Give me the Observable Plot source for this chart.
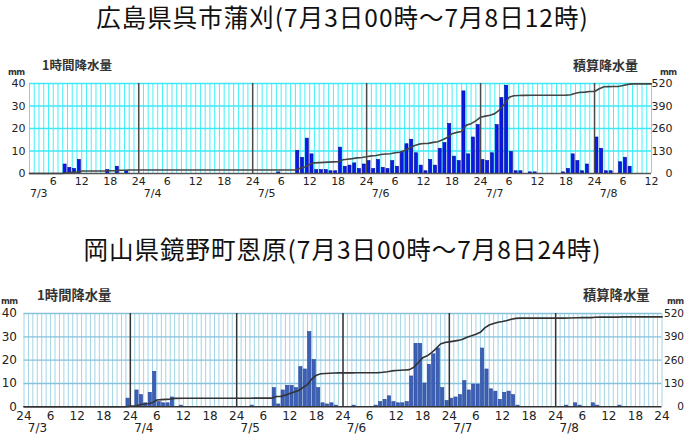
<!DOCTYPE html>
<html><head><meta charset="utf-8">
<script src="https://cdn.jsdelivr.net/npm/d3@7"></script>
<script src="https://cdn.jsdelivr.net/npm/@observablehq/plot@0.6"></script>
<style>
html,body{margin:0;padding:0;background:#fff;overflow:hidden;}
#page{position:relative;width:685px;height:438px;overflow:hidden;background:#fff;}
.abs{position:absolute;white-space:nowrap;line-height:1;color:#111;}
.title{font-family:"Noto Sans CJK JP";font-size:24.5px;left:0;width:685px;text-align:center;letter-spacing:1px;}
.lbl{font-family:"Noto Sans CJK JP";font-weight:bold;color:#333;}
.mm{font-family:"DejaVu Sans";font-weight:bold;font-size:8.5px;color:#333;letter-spacing:-0.5px;}
.wrap{position:absolute;left:0;}
</style></head><body>
<div id="page">
  <div class="abs title" style="top:5px">広島県呉市蒲刈(7月3日00時～7月8日12時)</div>
  <div class="abs lbl" style="left:42px;top:59px;font-size:12.5px">1時間降水量</div>
  <div class="abs mm" style="left:8px;top:68px">mm</div>
  <div class="abs lbl" style="left:573px;top:58px;font-size:13px">積算降水量</div>
  <div class="abs mm" style="left:660px;top:68px">mm</div>
  <div id="top" class="wrap" style="top:45px"></div>

  <div class="abs title" style="top:237px">岡山県鏡野町恩原(7月3日00時～7月8日24時)</div>
  <div class="abs lbl" style="left:37px;top:288px;font-size:13.3px">1時間降水量</div>
  <div class="abs mm" style="left:1px;top:297px">mm</div>
  <div class="abs lbl" style="left:583px;top:288px;font-size:13.3px">積算降水量</div>
  <div class="abs mm" style="left:667px;top:297px">mm</div>
  <div id="bot" class="wrap" style="top:275px"></div>
</div>
<script>
// ---------- data: 呉市蒲刈 (hour counted from 7/3 00:00) ----------
const topBarHours = [9,10,11,12,18,20,22,54,58,59,60,61,62,63,64,65,66,67,68,69,70,71,72,73,74,75,76,77,78,79,80,81,82,83,84,85,86,87,88,89,90,91,92,93,94,95,96,97,98,99,100,101,102,103,104,105,107,108,114,115,116,117,118,119,121,122,123,124,126,127,128];
const topBarMm = [4,2.5,2,6,1.5,3,1,0.5,10,7,15.5,8.5,1.5,1.5,1.5,1,1,11.5,3,3.5,4.5,2,4,5.5,2,6,2.5,2,5.5,3,9.5,13,15,9,3.5,1,6,3.5,11,13.5,22,7.5,5.5,36.5,8.5,16,21.5,6,5.5,9,21.5,33.5,39,9.5,1,1,0.5,0.5,0.5,2,8.5,5.5,1,4,16,11,1,1,5,7,3];
const topCumHours = [1,8,9,10,11,12,17,18,19,20,21,22,53,54,57,58,59,60,61,62,63,64,65,66,67,68,69,70,71,72,73,74,75,76,77,78,79,80,81,82,83,84,85,86,87,88,89,90,91,92,93,94,95,96,97,98,99,100,101,102,103,104,105,107,108,113,114,115,116,117,118,119,120,121,122,123,124,125,126,127,128,132];
const topCumMm = [0,0,4,6.5,8.5,14.5,14.5,16,16,19,19,20,20,20.5,20.5,30.5,37.5,53,61.5,63,64.5,66,67,68,79.5,82.5,86,90.5,92.5,96.5,102,104,110,112.5,114.5,120,123,132.5,145.5,160.5,169.5,173,174,180,183.5,194.5,208,230,237.5,243,279.5,288,304,325.5,331.5,337,346,367.5,401,440,449.5,450.5,451.5,452,452.5,452.5,453,455,463.5,469,470,474,474,490,501,502,503,503,508,515,518,518];
const topHourTicks = [6,12,18,24,30,36,42,48,54,60,66,72,78,84,90,96,102,108,114,120,126,132];

// ---------- data: 鏡野町恩原 ----------
const botBarHours = [24,26,27,28,29,30,31,32,33,34,36,52,57,58,59,60,61,62,63,64,65,66,67,68,69,70,71,75,80,81,82,83,84,85,86,87,88,89,90,91,92,93,94,95,96,97,98,99,100,101,102,103,104,105,106,107,108,109,110,111,112,123,125,126,129,130,135];
const botBarMm = [3.5,7,5,1.5,6,15,2,1.5,1.5,4,0.5,0.5,8,1,7,9,9,8,17,16,32,20,8,1.5,1,1.5,0.5,0.5,0.5,2,3,4.5,2,1.5,1.5,2,13,27,27,10,18,22.5,25,8,2.5,3.5,4,5,11,7,9.5,9.5,25,16,7.5,6.5,3,6,6.5,5,0.5,0.5,1.5,0.5,1.5,0.5,0.5];
const botCumHours = [0,23,24,25,26,27,28,29,30,31,32,33,34,36,51,52,56,57,58,59,60,61,62,63,64,65,66,67,68,69,70,71,74,75,79,80,81,82,83,84,85,86,87,88,89,90,91,92,93,94,95,96,97,98,99,100,101,102,103,104,105,106,107,108,109,110,111,112,122,123,125,126,128,129,130,134,135,144];
const botCumMm = [0,0,3.5,3.5,10.5,15.5,17,23,38,40,41.5,43,47,48,48,48.5,48.5,57,58,65,74,83,91,108,124,156,176,184,186,187,188,189,189,190,190,190.5,192.5,195.5,200,202,203.5,205,207,220,247,274,284,302,324,350,358,362,366,370,376,388,396,405,415,440,456,464,471,475,481,488,493,494,494,495,496,497,497,499,500,500,501,501];
const botHourTicks = [0,6,12,18,24,30,36,42,48,54,60,66,72,78,84,90,96,102,108,114,120,126,132,138,144];

// ---------- shared labels ----------
const dayLines = [24,48,72,96,120];
const dayStarts = [0,24,48,72,96,120];
const dateLabels = ["7/3","7/4","7/5","7/6","7/7","7/8"];
const leftTicks = [0,10,20,30,40];
const rightTickLabels = ["0","130","260","390","520"];

function hourLabel(h){ const r = h % 24; return String(r === 0 ? 24 : r); }

function panel(o){
  const bars = o.barHours.map((h,i)=>({h, mm:o.barMm[i]}));
  const cum = o.cumHours.map((h,i)=>({h, mm:o.cumMm[i]}));
  const ratio = +rightTickLabels[rightTickLabels.length-1] / leftTicks[leftTicks.length-1];
  const x0 = o.xDomain[0], x1 = o.xDomain[1];
  const font = "DejaVu Sans";
  return Plot.plot({
    width:685, height:o.height,
    marginLeft:o.ml, marginRight:o.mr, marginTop:o.mt, marginBottom:o.mb,
    x:{domain:o.xDomain, axis:null},
    y:{domain:[0,40], axis:null},
    style:{background:"transparent", overflow:"visible"},
    marks:[
      Plot.ruleX(d3.range(x0, x1+1), {stroke:o.gridV, strokeWidth:1}),
      Plot.ruleY(leftTicks.slice(1), {stroke:o.gridH, strokeWidth:1.4}),
      Plot.rect(bars, {x1:d=>d.h-1, x2:d=>d.h, y1:0, y2:d=>d.mm, insetLeft:o.inset, insetRight:o.inset,
        fill:o.barFill, stroke:o.barStroke, strokeWidth:0.6}),
      Plot.ruleX(dayLines, {stroke:o.dayColor, strokeWidth:1.5}),
      Plot.ruleY([0], {stroke:o.baseColor, strokeWidth:1.6}),
      Plot.line(cum, {x:"h", y:d=>d.mm/ratio, stroke:o.cumColor, strokeWidth:1.6}),
      // left axis
      Plot.text(leftTicks, {x:x0, y:d=>d, text:d=>String(d), textAnchor:"end", dx:o.leftDx,
        fontFamily:font, fontSize:o.fs, fill:"#222"}),
      // right axis
      Plot.text(leftTicks, {x:x1, y:d=>d, text:(d,i)=>rightTickLabels[i], textAnchor:o.rightAnchor, dx:o.rightDx,
        fontFamily:font, fontSize:o.fsRight, fill:"#222"}),
      // hour labels
      Plot.text(o.hourTicks, {x:d=>d, y:0, text:hourLabel, dy:o.hourDy,
        fontFamily:font, fontSize:o.fs, fill:"#222"}),
      // date labels
      Plot.text(dayStarts, {x:d=>d, y:0, text:(d,i)=>dateLabels[i], dx:o.dateDx, dy:o.dateDy,
        fontFamily:font, fontSize:o.fsDate, fill:"#222"})
    ]
  });
}

document.getElementById("top").append(panel({
  barHours:topBarHours, barMm:topBarMm, cumHours:topCumHours, cumMm:topCumMm, hourTicks:topHourTicks,
  xDomain:[1,132], height:160, ml:29, mr:34, mt:38, mb:32,
  gridV:"#45f0fb", gridH:"#3ee8f6", barFill:"#0b18ee", barStroke:"#00078a", inset:0.85,
  dayColor:"#4a4a4a", baseColor:"#555", cumColor:"#444",
  fs:11, fsRight:11, fsDate:11, leftDx:-4, rightDx:21, rightAnchor:"end", hourDy:8, dateDx:14, dateDy:20
}));

document.getElementById("bot").append(panel({
  barHours:botBarHours, barMm:botBarMm, cumHours:botCumHours, cumMm:botCumMm, hourTicks:botHourTicks,
  xDomain:[0,144], height:163, ml:23.5, mr:23.5, mt:38, mb:31.7,
  gridV:"#a3d4e6", gridH:"#86c2da", barFill:"#3d5fb5", barStroke:"#27469a", inset:0.6,
  dayColor:"#333", baseColor:"#333", cumColor:"#333",
  fs:12, fsRight:10.5, fsDate:12, leftDx:-7, rightDx:22, rightAnchor:"end", hourDy:9, dateDx:13.5, dateDy:21
}));
</script>
</body></html>
